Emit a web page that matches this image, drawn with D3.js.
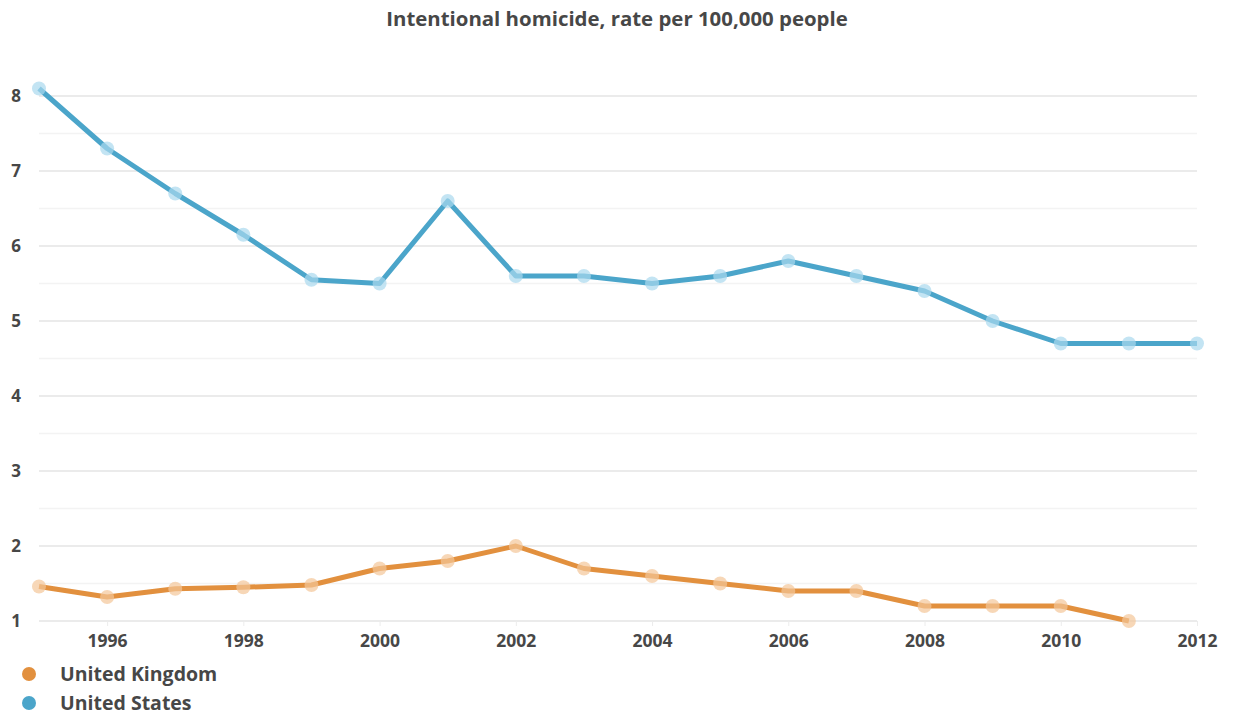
<!DOCTYPE html>
<html>
<head>
<meta charset="utf-8">
<script src="https://cdn.jsdelivr.net/npm/d3@7"></script>
<style>
  html, body { margin: 0; padding: 0; background: #fff; }
  svg { display: block; font-family: "Open Sans", "Noto Sans", sans-serif; }
</style>
</head>
<body>
<svg id="chart" width="1238" height="715"></svg>
<script>
// Intentional homicide, rate per 100,000 people
const years = [1995, 1996, 1997, 1998, 1999, 2000, 2001, 2002, 2003, 2004, 2005, 2006, 2007, 2008, 2009, 2010, 2011, 2012];
const unitedStates = [8.1, 7.3, 6.7, 6.15, 5.55, 5.5, 6.6, 5.6, 5.6, 5.5, 5.6, 5.8, 5.6, 5.4, 5.0, 4.7, 4.7, 4.7];
const unitedKingdom = [1.46, 1.32, 1.43, 1.45, 1.48, 1.7, 1.8, 2.0, 1.7, 1.6, 1.5, 1.4, 1.4, 1.2, 1.2, 1.2, 1.0, null];
const xTicks = [1996, 1998, 2000, 2002, 2004, 2006, 2008, 2010, 2012];
const yTicks = [1, 2, 3, 4, 5, 6, 7, 8];
const yMinor = [1.5, 2.5, 3.5, 4.5, 5.5, 6.5, 7.5];
const seriesNames = ["United Kingdom", "United States"];
const titleText = "Intentional homicide, rate per 100,000 people";

(function () {
const svg = d3.select("#chart");
const plotLeft = 39, plotRight = 1197, plotTop = 96, plotBottom = 621;

const x = d3.scaleLinear().domain([1995, 2012]).range([plotLeft, plotRight]);
const y = d3.scaleLinear().domain([1, 8]).range([plotBottom, plotTop]);

const textColor = "#474747";
const colors = {
  "United Kingdom": { line: "#e2903e", dot: "#f3c698" },
  "United States": { line: "#4ba5ca", dot: "#a9d9ee" }
};

// title
svg.append("text")
  .attr("x", 617).attr("y", 26)
  .attr("text-anchor", "middle")
  .attr("font-size", 20.4).attr("font-weight", 700)
  .attr("fill", textColor)
  .text(titleText);

// minor grid
svg.append("g").selectAll("line").data(yMinor).join("line")
  .attr("x1", plotLeft).attr("x2", plotRight)
  .attr("y1", d => y(d)).attr("y2", d => y(d))
  .attr("stroke", "#f3f3f3").attr("stroke-width", 1.5);

// major grid
svg.append("g").selectAll("line").data(yTicks).join("line")
  .attr("x1", plotLeft).attr("x2", plotRight)
  .attr("y1", d => y(d)).attr("y2", d => y(d))
  .attr("stroke", "#e4e4e4").attr("stroke-width", 1.5);

// y axis labels
const yAxis = d3.axisLeft(y).tickValues(yTicks).tickSize(0).tickPadding(0).tickFormat(d3.format("d"));
const gy = svg.append("g").attr("transform", "translate(21,0)").call(yAxis);
gy.select(".domain").remove();
gy.selectAll("text")
  .attr("font-size", 17).attr("font-weight", 700)
  .attr("fill", textColor).attr("font-family", "'Open Sans', sans-serif");

// x axis
const xAxis = d3.axisBottom(x).tickValues(xTicks).tickSize(5).tickPadding(9).tickFormat(d3.format("d"));
const gx = svg.append("g").attr("transform", `translate(0,${plotBottom})`).call(xAxis);
gx.select(".domain").remove();
gx.selectAll("line").attr("stroke", "#ececec");
gx.selectAll("text")
  .attr("font-size", 17.5).attr("font-weight", 700)
  .attr("fill", textColor).attr("font-family", "'Open Sans', sans-serif");

const line = d3.line()
  .defined(d => d[1] != null)
  .x(d => x(d[0])).y(d => y(d[1]));

function drawSeries(name, values) {
  const pts = years.map((yr, i) => [yr, values[i]]).filter(d => d[1] != null);
  const g = svg.append("g");
  g.append("path").datum(pts)
    .attr("d", line)
    .attr("fill", "none")
    .attr("stroke", colors[name].line)
    .attr("stroke-width", 5)
    .attr("stroke-linejoin", "round");
  g.selectAll("circle").data(pts).join("circle")
    .attr("cx", d => x(d[0])).attr("cy", d => y(d[1]))
    .attr("r", 7)
    .attr("fill", colors[name].dot)
    .attr("fill-opacity", 0.7);
}

drawSeries("United States", unitedStates);
drawSeries("United Kingdom", unitedKingdom);

// legend
const legend = svg.append("g");
const items = legend.selectAll("g").data(seriesNames).join("g")
  .attr("transform", (d, i) => `translate(0,${674 + i * 29})`);
items.append("circle")
  .attr("cx", 29).attr("cy", 0).attr("r", 7)
  .attr("fill", d => colors[d].line);
items.append("text")
  .attr("x", 60).attr("y", 0).attr("dy", "0.35em")
  .attr("font-size", 19.5).attr("font-weight", 700)
  .attr("fill", textColor)
  .text(d => d);
})();
</script>
</body>
</html>
